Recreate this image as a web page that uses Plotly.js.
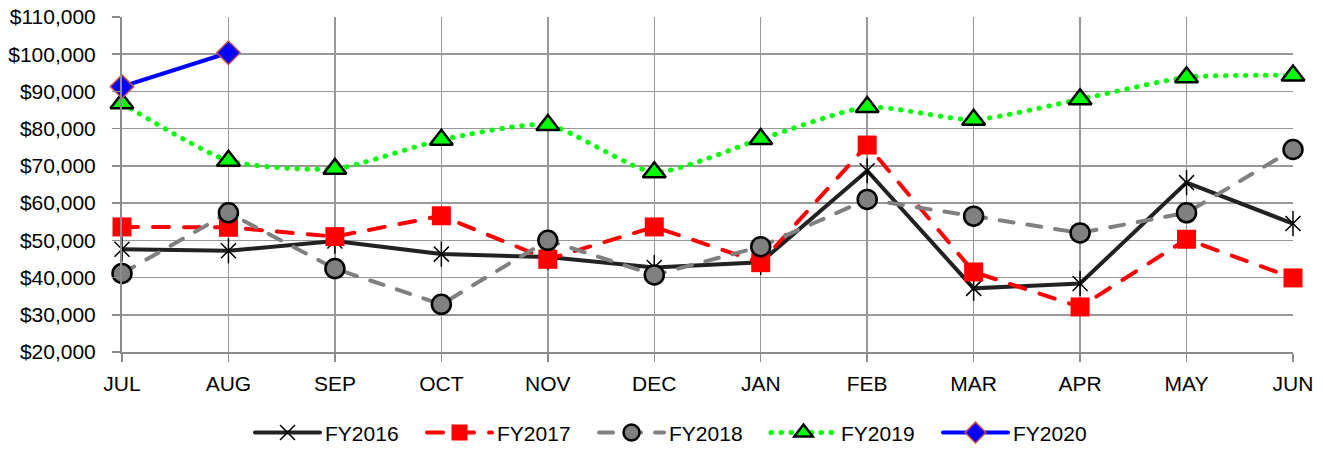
<!DOCTYPE html>
<html>
<head>
<meta charset="utf-8">
<script src="https://cdn.plot.ly/plotly-3.0.1.min.js"></script>
<style>
html,body{margin:0;padding:0;background:#fff;}
#chart{width:1323px;height:450px;}
path.js-line{stroke-linecap:round;}
</style>
</head>
<body>
<div id="chart"></div>
<script>
const months = ["JUL","AUG","SEP","OCT","NOV","DEC","JAN","FEB","MAR","APR","MAY","JUN"];
const fy2016 = [47600, 47200, 49800, 46300, 45500, 42700, 44100, 68700, 37100, 38400, 65500, 54500];
const fy2017 = [53600, 53500, 51000, 56600, 44900, 53600, 44000, 75600, 41500, 32100, 50300, 39900];
const fy2018 = [41100, 57400, 42400, 32800, 50000, 40700, 48300, 61000, 56500, 52000, 57400, 74400];
const fy2019 = [86800, 71400, 69200, 77000, 81000, 68300, 77200, 85800, 82400, 87900, 93800, 94300];
const fy2020 = [91300, 100400];

const FONT = "Liberation Sans, Arial, sans-serif";
const FS = 21;

const traces = [
  {
    name: "FY2016", x: months, y: fy2016, type: "scatter", mode: "lines+markers",
    line: {color: "#222222", width: 4},
    marker: {symbol: "x-thin-open", size: 15, color: "#000000", line: {color: "#000000", width: 1.5}},
    cliponaxis: false
  },
  {
    name: "FY2016v", x: months, y: fy2016, type: "scatter", mode: "markers", showlegend: false,
    marker: {symbol: "line-ns-open", size: 18, color: "#000000", line: {color: "#000000", width: 1.5}},
    cliponaxis: false, hoverinfo: "skip"
  },
  {
    name: "FY2017", x: months, y: fy2017, type: "scatter", mode: "lines+markers",
    line: {color: "#FF0000", width: 4, dash: "16px,15px"},
    marker: {symbol: "square", size: 19, color: "#FF0000", line: {color: "#FF0000", width: 0}},
    cliponaxis: false
  },
  {
    name: "FY2018", x: months, y: fy2018, type: "scatter", mode: "lines+markers",
    line: {color: "#808080", width: 4, dash: "14px,14px"},
    marker: {symbol: "circle", size: 19, color: "#808080", line: {color: "#000000", width: 2.5}},
    cliponaxis: false
  },
  {
    name: "FY2019", x: months, y: fy2019, type: "scatter", mode: "lines+markers",
    line: {color: "#00FF00", width: 5, dash: "0.5px,9.5px", shape: "spline", smoothing: 0.6},
    marker: {symbol: "triangle-up", size: 20, color: "#00FF00", line: {color: "#000000", width: 2.5}},
    cliponaxis: false
  },
  {
    name: "FY2020", x: months.slice(0, fy2020.length), y: fy2020, type: "scatter", mode: "lines+markers",
    line: {color: "#0000FF", width: 4},
    marker: {symbol: "diamond", size: 18, color: "#0000FF", line: {color: "#C0504D", width: 1.5}},
    cliponaxis: false
  }
];

const layout = {
  width: 1323, height: 450,
  margin: {l: 122, r: 30, t: 17, b: 98, pad: 0},
  paper_bgcolor: "#ffffff", plot_bgcolor: "#ffffff",
  font: {family: FONT, size: FS, color: "#000000"},
  showlegend: true,
  xaxis: {
    type: "category", categoryorder: "array", categoryarray: months,
    range: [0, 11], showgrid: true, gridcolor: "#999999", gridwidth: 1.5,
    showline: true, linecolor: "#8c8c8c", linewidth: 2,
    ticks: "outside", ticklen: 8, tickcolor: "#8c8c8c", tickwidth: 1.5,
    ticklabelstandoff: 4,
    tickfont: {family: FONT, size: FS, color: "#000000"}, zeroline: false, fixedrange: true
  },
  yaxis: {
    range: [20000, 110000], dtick: 10000, tick0: 20000, tickformat: "$,.0f",
    showgrid: true, gridcolor: "#999999", gridwidth: 1.5,
    showline: true, linecolor: "#8c8c8c", linewidth: 2,
    ticks: "outside", ticklen: 8, tickcolor: "#8c8c8c", tickwidth: 1.5,
    ticklabelstandoff: 12,
    tickfont: {family: FONT, size: FS, color: "#000000"}, zeroline: false, fixedrange: true
  },
  legend: {
    orientation: "h", xref: "container", yref: "container",
    x: 0.514, xanchor: "center", y: 0.038, yanchor: "middle",
    font: {family: FONT, size: FS, color: "#000000"},
    itemwidth: 65, entrywidth: 92, entrywidthmode: "pixels",
    bgcolor: "rgba(0,0,0,0)"
  }
};

Plotly.newPlot("chart", traces, layout, {displayModeBar: false, staticPlot: true});
</script>
</body>
</html>
